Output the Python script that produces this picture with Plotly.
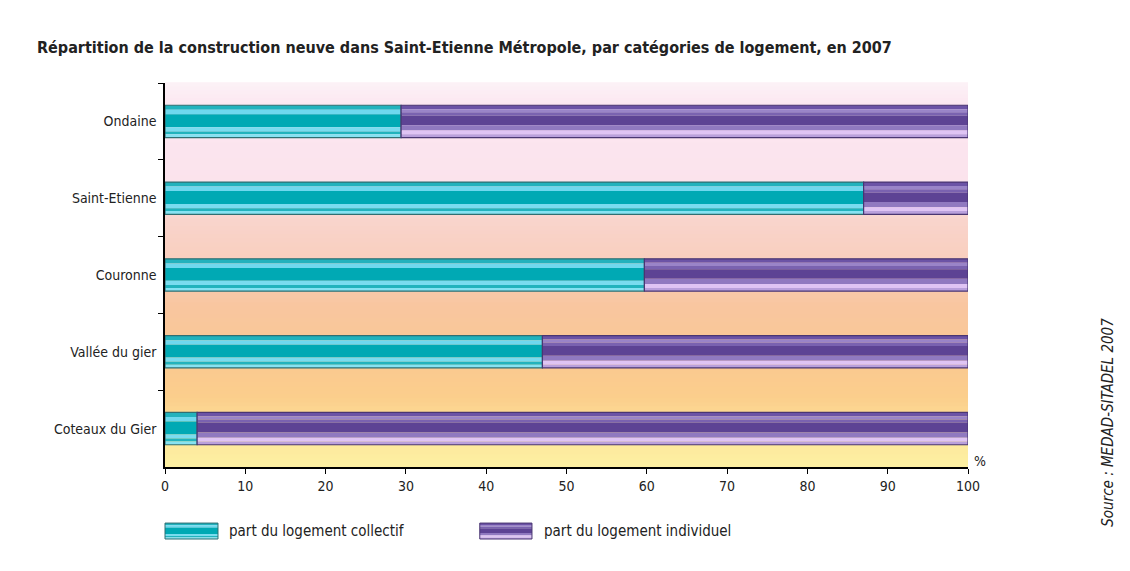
import plotly.graph_objects as go

# ---- data ----
categories = ["Ondaine", "Saint-Etienne", "Couronne", "Vallée du gier", "Coteaux du Gier"]
collectif = [29.4, 87.0, 59.7, 47.0, 4.0]
individuel = [70.6, 13.0, 40.3, 53.0, 96.0]
x_ticks = [0, 10, 20, 30, 40, 50, 60, 70, 80, 90, 100]
series_names = ["part du logement collectif", "part du logement individuel"]

title_text = "Répartition de la construction neuve dans Saint-Etienne Métropole, par catégories de logement, en 2007"
source_text = "Source : MEDAD-SITADEL 2007"

FONT = "Liberation Sans Narrow, DejaVu Sans Condensed, Arial Narrow, Roboto Condensed, sans-serif"
BAR_W = 0.42
FIG_W, FIG_H = 1122, 563

# stripe definitions (top fraction, bottom fraction, colour)
stripes_coll = [
    (0.00, 0.14, "#22b2bd"),
    (0.14, 0.28, "#6fd8ee"),
    (0.28, 0.68, "#00a9b4"),
    (0.68, 0.81, "#7adcef"),
    (0.81, 0.90, "#22b3bd"),
    (0.90, 1.00, "#86e2f2"),
]
stripes_ind = [
    (0.00, 0.12, "#6c53a6"),
    (0.12, 0.22, "#9a84c8"),
    (0.22, 0.32, "#7a62b0"),
    (0.32, 0.62, "#5d4394"),
    (0.62, 0.78, "#9079c0"),
    (0.78, 0.90, "#dfc4f4"),
    (0.90, 1.00, "#b9a0dc"),
]

fig = go.Figure()


def add_series(values, base, stripes, outline):
    for a, b, col in stripes:
        fig.add_trace(go.Bar(
            x=values, y=categories, base=base, orientation="h",
            width=(b - a) * BAR_W, offset=-BAR_W / 2 + a * BAR_W,
            marker=dict(color=col, line=dict(width=0)),
            showlegend=False, hoverinfo="skip",
        ))
    fig.add_trace(go.Bar(
        x=values, y=categories, base=base, orientation="h",
        width=BAR_W, offset=-BAR_W / 2,
        marker=dict(color="rgba(0,0,0,0)", line=dict(color=outline, width=1.2)),
        showlegend=False,
    ))


add_series(collectif, [0] * len(collectif), stripes_coll, "#2f6f72")
add_series(individuel, collectif, stripes_ind, "#4a3672")

# ---- background gradient ----
stops = [
    (0.00, (252, 242, 247)),
    (0.06, (252, 230, 241)),
    (0.26, (251, 227, 236)),
    (0.36, (249, 212, 204)),
    (0.46, (249, 207, 190)),
    (0.58, (249, 198, 160)),
    (0.72, (250, 200, 145)),
    (0.82, (251, 206, 140)),
    (0.92, (253, 230, 155)),
    (1.00, (253, 240, 162)),
]


def interp(t):
    for (t0, c0), (t1, c1) in zip(stops[:-1], stops[1:]):
        if t0 <= t <= t1:
            f = (t - t0) / (t1 - t0) if t1 > t0 else 0
            return "rgb(%d,%d,%d)" % tuple(round(c0[i] + f * (c1[i] - c0[i])) for i in range(3))
    return "rgb(%d,%d,%d)" % stops[-1][1]


shapes = []
N = 96
for i in range(N):
    t0 = i / N
    t1 = (i + 1) / N
    shapes.append(dict(
        type="rect", xref="x", yref="y domain", x0=0, x1=100,
        y0=1 - t1, y1=1 - t0 + 0.002, fillcolor=interp((t0 + t1) / 2),
        line=dict(width=0), layer="below",
    ))

# ---- manual legend ----
legend_pos = [(0.0, 0.066, 0.077), (0.392, 0.457, 0.4695)]
ly_top, ly_bot = -0.146, -0.1875
for (x0, x1, tx), stripes, outline, name in zip(
        legend_pos, [stripes_coll, stripes_ind], ["#2f6f72", "#4a3672"], series_names):
    for a, b, col in stripes:
        shapes.append(dict(
            type="rect", xref="paper", yref="paper", x0=x0, x1=x1,
            y0=ly_top - b * (ly_top - ly_bot), y1=ly_top - a * (ly_top - ly_bot),
            fillcolor=col, line=dict(width=0),
        ))
    shapes.append(dict(
        type="rect", xref="paper", yref="paper", x0=x0, x1=x1, y0=ly_bot, y1=ly_top,
        line=dict(color=outline, width=1), fillcolor="rgba(0,0,0,0)",
    ))
    fig.add_annotation(
        x=tx, y=(ly_top + ly_bot) / 2, xref="paper", yref="paper", text=name,
        showarrow=False, xanchor="left", yanchor="middle",
        font=dict(family=FONT, size=15, color="#222222"),
    )

fig.add_annotation(
    x=1.015, y=0.016, xref="paper", yref="paper", text="%", showarrow=False,
    xanchor="center", yanchor="middle", font=dict(family=FONT, size=14, color="#222222"),
)
fig.add_annotation(
    x=1.174, y=0.117, xref="paper", yref="paper", text=source_text, showarrow=False,
    textangle=-90, xanchor="center", yanchor="middle",
    font=dict(family=FONT, size=15, color="#222222", style="italic"),
)

fig.update_layout(
    width=FIG_W, height=FIG_H,
    margin=dict(l=157, r=162, t=75, b=104),
    paper_bgcolor="white", plot_bgcolor="white",
    barmode="overlay", showlegend=False, shapes=shapes,
    title=dict(
        text="<b>" + title_text + "</b>", x=29 / FIG_W, xanchor="left",
        y=1 - 39 / FIG_H, yanchor="middle",
        font=dict(family=FONT, size=16, color="#222222"),
    ),
    font=dict(family=FONT, size=14, color="#222222"),
)
fig.update_xaxes(
    range=[0, 100], tickvals=x_ticks, ticktext=[str(v) for v in x_ticks],
    showgrid=False, zeroline=False, showline=True, linecolor="black", linewidth=1.5,
    ticks="outside", ticklen=5, tickcolor="black", tickfont=dict(family=FONT, size=14, color="#222222"),
)
fig.update_yaxes(
    categoryorder="array", categoryarray=categories, autorange="reversed",
    showgrid=False, zeroline=False, showline=True, linecolor="black", linewidth=1.5,
    ticks="outside", ticklen=5, tickcolor="black", tickson="boundaries",
    tickfont=dict(family=FONT, size=14, color="#222222"), ticklabelstandoff=4,
)

fig.write_html("out.html")
